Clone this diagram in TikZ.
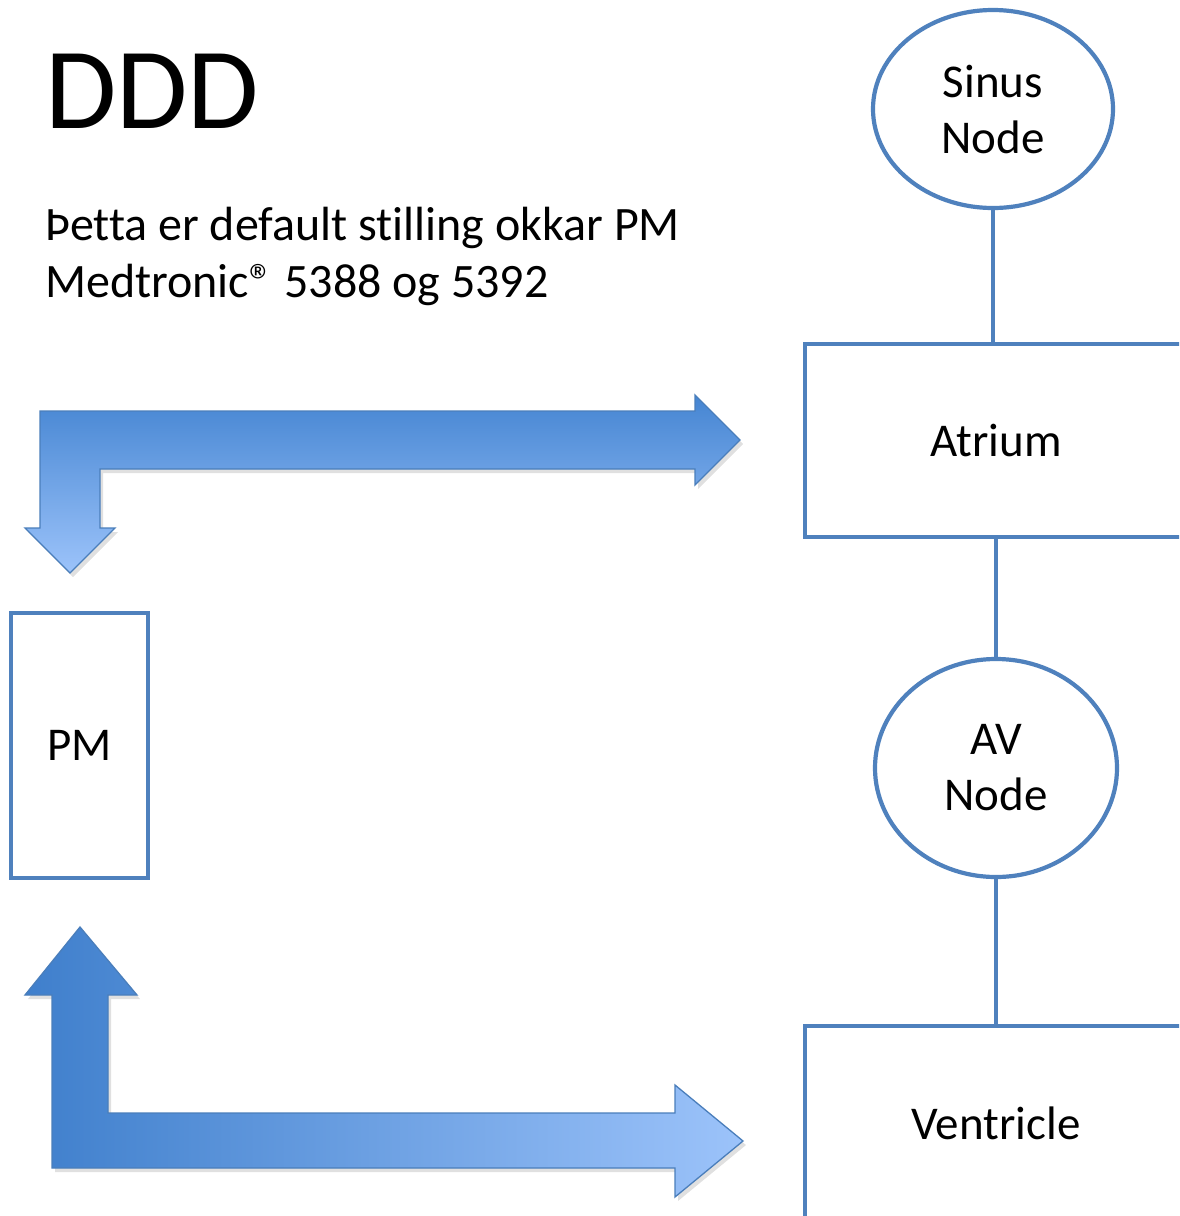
\documentclass[tikz,border=0pt]{standalone}
\usepackage{fontspec}
\setmainfont[Ligatures=NoCommon]{Carlito}
\usetikzlibrary{shapes.geometric}
\definecolor{outl}{HTML}{4F81BD}
\definecolor{arrdark}{HTML}{4585D2}
\definecolor{arrlight}{HTML}{9CC3FA}
\definecolor{arrdarkb}{HTML}{3F7FCC}
\definecolor{arrline}{HTML}{4A7EBB}
\begin{document}
\begin{tikzpicture}[x=1pt,y=-1pt,
  box/.style={draw=outl, line width=4.2pt, fill=white, inner sep=0pt, font=\fontsize{47}{56}\selectfont},
  oval/.style={ellipse, draw=outl, line width=4.2pt, fill=white, inner sep=0pt, align=center, font=\fontsize{47}{56}\selectfont},
  link/.style={draw=outl, line width=4.2pt},
  txt/.style={anchor=base west, inner sep=0pt, font=\fontsize{48}{57}\selectfont},
  blockarrow/.style={draw=arrline, line width=1.3pt, line join=miter},
  shadowfill/.style={fill=black, opacity=0.12}]
\useasboundingbox (0,0) rectangle (1179,1216);
\clip (0,0) rectangle (1179,1216);
\fill[white] (0,0) rectangle (1179,1216);

% title and description
\node[anchor=base west, inner sep=0pt, font=\fontsize{116}{116}\selectfont] (title) at (45,128) {DDD};
\node[txt] (desc1) at (45,240) {Þetta er default stilling okkar PM};
\node[txt] (desc2) at (45,297) {Medtronic® 5388 og 5392};

% right column
\node[oval, minimum width=240, minimum height=198] (sinus) at (993,109) {Sinus\\Node};
\node[box, minimum width=382, minimum height=193] (atrium) at (996,440.5) {Atrium};
\node[oval, minimum width=242, minimum height=218] (av) at (996,768) {AV\\Node};
\node[box, minimum width=382, minimum height=194] (vent) at (996,1123) {Ventricle};
\node[box, minimum width=137, minimum height=265] (pm) at (79.5,745.5) {PM};

\draw[link] (sinus.south) -- (sinus.south |- atrium.north);
\draw[link] (av.north) -- (av.north |- atrium.south);
\draw[link] (av.south) -- (av.south |- vent.north);

% top block arrow (shadow + body)
\fill[shadowfill, shift={(3,4)}] (40,411) -- (695,411) -- (695,395) -- (740,440) -- (695,485) -- (695,469) -- (100,469) -- (100,528) -- (115,528) -- (70,573) -- (25,528) -- (40,528) -- cycle;
\shadedraw[blockarrow, top color=arrdark, bottom color=arrlight] (40,411) -- (695,411) -- (695,395) -- (740,440) -- (695,485) -- (695,469) -- (100,469) -- (100,528) -- (115,528) -- (70,573) -- (25,528) -- (40,528) -- cycle;

% bottom block arrow (shadow + body)
\fill[shadowfill, shift={(3,4)}] (80,927) -- (137,995) -- (108,995) -- (108,1113) -- (675,1113) -- (675,1085) -- (743,1141) -- (675,1197) -- (675,1168) -- (52,1168) -- (52,995) -- (25,995) -- cycle;
\shadedraw[blockarrow, left color=arrdarkb, right color=arrlight] (80,927) -- (137,995) -- (108,995) -- (108,1113) -- (675,1113) -- (675,1085) -- (743,1141) -- (675,1197) -- (675,1168) -- (52,1168) -- (52,995) -- (25,995) -- cycle;
\end{tikzpicture}
\end{document}
